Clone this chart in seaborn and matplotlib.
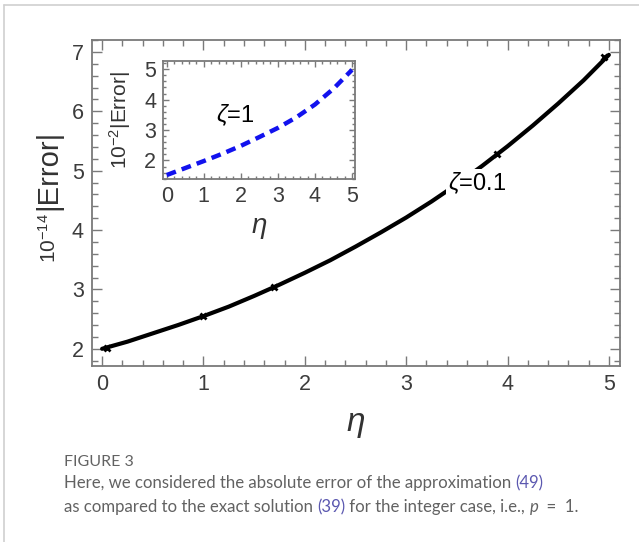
import matplotlib
matplotlib.use("Agg")
import matplotlib.pyplot as plt
from matplotlib.lines import Line2D
from matplotlib.ticker import MultipleLocator
import pandas as pd
import seaborn as sns

# Absolute error for zeta = 0.1 (scaled by 1e14)
eta_main = [0.0, 0.25, 0.5, 0.75, 1.0, 1.25, 1.5, 1.75, 2.0, 2.25, 2.5,
            2.75, 3.0, 3.25, 3.5, 3.75, 4.0, 4.25, 4.5, 4.75, 5.0]
err_main = [2.00, 2.12, 2.26, 2.40, 2.55, 2.71, 2.89, 3.08, 3.28, 3.49, 3.72,
            3.96, 4.21, 4.48, 4.77, 5.08, 5.41, 5.76, 6.13, 6.52, 6.95]

# Points where the numerical curve shows small crossings
eta_marks = [0.05, 1.0, 1.7, 3.9, 4.95]
err_marks = [2.01, 2.55, 3.04, 5.28, 6.92]

# Absolute error for zeta = 1 (scaled by 1e2)
eta_inset = [0.0, 0.5, 1.0, 1.5, 2.0, 2.5, 3.0, 3.5, 4.0, 4.5, 5.0]
err_inset = [1.52, 1.75, 1.98, 2.22, 2.48, 2.77, 3.07, 3.42, 3.84, 4.36, 4.98]

main_xticks = [0, 1, 2, 3, 4, 5]
main_yticks = [2, 3, 4, 5, 6, 7]
inset_xticks = [0, 1, 2, 3, 4, 5]
inset_yticks = [2, 3, 4, 5]

sns.set_style("ticks")
plt.rcParams["font.family"] = ["Liberation Sans", "DejaVu Sans"]
plt.rcParams["mathtext.fontset"] = "custom"
plt.rcParams["mathtext.rm"] = "Liberation Sans"
plt.rcParams["mathtext.it"] = "Liberation Sans:italic"

spine_col = "#7a7a7a"
tick_txt = "#3c3c3c"
W, H = 639, 542

fig = plt.figure(figsize=(6.39, 5.42), dpi=100)

# thin page frame lines
fig.add_artist(Line2D([4 / W, 1.0], [1 - 5 / H, 1 - 5 / H], color="#cfcfcf", lw=1.2))
fig.add_artist(Line2D([4 / W, 4 / W], [0.0, 1 - 5 / H], color="#cfcfcf", lw=1.2))


def style_axes(ax, fs, major_len, minor_len, pad):
    for s in ax.spines.values():
        s.set_color(spine_col)
        s.set_linewidth(1.3)
        s.set_visible(True)
    ax.tick_params(which="both", direction="in", top=True, right=True,
                   color=spine_col, width=1.0, labelsize=fs, labelcolor=tick_txt, pad=pad)
    ax.tick_params(which="major", length=major_len)
    ax.tick_params(which="minor", length=minor_len)
    ax.xaxis.set_minor_locator(MultipleLocator(0.2))
    ax.yaxis.set_minor_locator(MultipleLocator(0.2))


# main panel
ax = fig.add_axes([92 / W, 1 - 366 / H, (620 - 92) / W, (366 - 40) / H])
df_main = pd.DataFrame({"eta": eta_main, "err": err_main})
sns.lineplot(data=df_main, x="eta", y="err", ax=ax, color="black", lw=3.0, zorder=3)
ax.plot(eta_marks, err_marks, ls="none", marker="x", ms=4.5, mew=2.0, color="black", zorder=3)
ax.set_xlim(-0.1, 5.11)
ax.set_ylim(1.71, 7.2)
ax.set_xticks(main_xticks)
ax.set_yticks(main_yticks)
style_axes(ax, 15.5, 7, 4, 6)
ax.set_xlabel(r"$\mathit{\eta}$", fontsize=24, color="#333333", labelpad=10)
ax.set_ylabel("")
ax.text(3.70, 4.79, r"$\mathit{\zeta}$=0.1", fontsize=17, color="black", ha="center", va="center",
        zorder=5, bbox=dict(facecolor="white", edgecolor="none", pad=1.0))

# main y label: large |Error| with a smaller power-of-ten factor beneath it
fig.text(48 / W, 1 - 210 / H, "|Error|", fontsize=21, color="#333333", rotation=90,
         ha="center", va="bottom")
fig.text(49 / W, 1 - 213 / H, r"10$^{-14}$", fontsize=15, color="#333333", rotation=90,
         ha="center", va="top")

# inset panel
axi = fig.add_axes([163 / W, 1 - 179 / H, (355 - 163) / W, (179 - 61) / H])
df_inset = pd.DataFrame({"eta": eta_inset, "err": err_inset})
sns.lineplot(data=df_inset, x="eta", y="err", ax=axi, color="#1212ee", lw=3.2)
axi.lines[0].set_dashes([2.2, 1.4])
axi.set_xlim(-0.1, 5.08)
axi.set_ylim(1.39, 5.27)
axi.set_xticks(inset_xticks)
axi.set_yticks(inset_yticks)
style_axes(axi, 15.5, 4, 2.5, 5)
axi.set_xlabel(r"$\mathit{\eta}$", fontsize=20, color="#333333", labelpad=6)
axi.set_ylabel(r"10$^{-2}$|Error|", fontsize=15, color="#333333", labelpad=8)
axi.text(1.86, 3.49, r"$\mathit{\zeta}$=1", fontsize=17, color="black", ha="center", va="center")

# caption
cap_gray = "#626262"
link = "#5b58b0"
cap_fam = ["Lato", "DejaVu Sans"]
fig.text(64 / W, 1 - 462 / H, "FIGURE 3", fontsize=11.5, color=cap_gray,
         family=cap_fam, va="center")


def place_chain(y, parts, fs=12.1):
    fig.canvas.draw()
    renderer = fig.canvas.get_renderer()
    x = 64 / W
    for p in parts:
        txt, col = p[0], p[1]
        st = p[2] if len(p) > 2 else "normal"
        t = fig.text(x, y, txt, fontsize=fs, color=col, style=st,
                     family=cap_fam, va="baseline")
        bb = t.get_window_extent(renderer=renderer)
        x += bb.width / fig.bbox.width


place_chain(1 - 488 / H, [
    ("Here, we considered the absolute error of the approximation ", cap_gray),
    ("(49)", link),
])
place_chain(1 - 512 / H, [
    ("as compared to the exact solution ", cap_gray),
    ("(39)", link),
    (" for the integer case, i.e., ", cap_gray),
    ("p", cap_gray, "italic"),
    ("  =  1.", cap_gray),
])

fig.savefig("out.png", dpi=100)
